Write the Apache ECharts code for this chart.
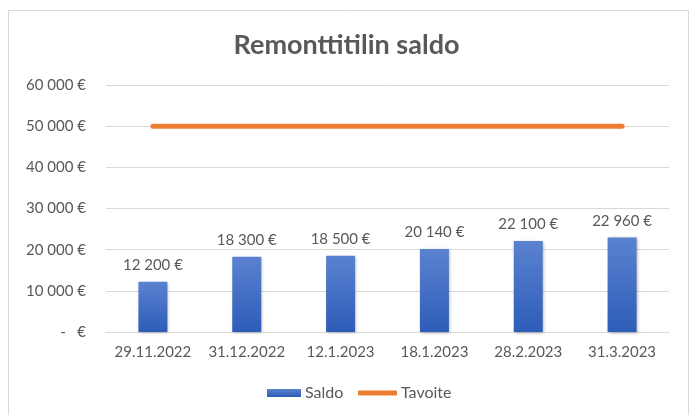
<!DOCTYPE html>
<html><head><meta charset="utf-8">
<script src="https://cdn.jsdelivr.net/npm/echarts@6/dist/echarts.min.js"></script>
<style>html,body{margin:0;padding:0;background:#fff}#c{width:693px;height:415px}</style>
</head><body><div id="c"></div>
<script>
const categories = ['29.11.2022','31.12.2022','12.1.2023','18.1.2023','28.2.2023','31.3.2023'];
const saldo = [12200, 18300, 18500, 20140, 22100, 22960];
const tavoite = [50000, 50000, 50000, 50000, 50000, 50000];
const title = 'Remonttitilin saldo';

function fmt(v){
  if (v === 0) return '-   €';
  return String(Math.round(v)).replace(/\B(?=(\d{3})+(?!\d))/g, ' ') + ' €';
}
const FONT = 'Lato';
const TXT = '#595959';
const chart = echarts.init(document.getElementById('c'), null, {renderer:'canvas'});
chart.setOption({
  backgroundColor:'#fff',
  animation:false,
  textStyle:{fontFamily:FONT},
  title:{text:title,left:'center',top:27,textStyle:{fontFamily:FONT,fontSize:27,fontWeight:'bold',color:TXT}},
  graphic:[{type:'rect',shape:{x:8.5,y:10.5,width:680,height:420},style:{fill:'none',stroke:'#d9d9d9',lineWidth:1},silent:true,z:-1}],
  grid:{left:106,right:24,top:85,bottom:83},
  legend:[
    {data:[{name:'Saldo',icon:'rect'}],left:262,top:380,itemWidth:34,itemHeight:8,itemGap:4,
     textStyle:{color:TXT,fontSize:16,fontFamily:FONT,padding:[0,0,0,-1]}},
    {data:[{name:'Tavoite',icon:'roundRect'}],left:353,top:380,itemWidth:39,itemHeight:5,itemGap:4,
     textStyle:{color:TXT,fontSize:16,fontFamily:FONT,padding:[0,0,0,-1]}}
  ],
  xAxis:{type:'category',data:categories,
    axisLine:{lineStyle:{color:'#d9d9d9'}},axisTick:{show:false},
    axisLabel:{color:TXT,fontSize:15,margin:13,fontFamily:FONT,interval:0,hideOverlap:false}},
  yAxis:{type:'value',min:0,max:60000,interval:10000,
    axisLine:{show:false},axisTick:{show:false},
    splitLine:{lineStyle:{color:'#d9d9d9'}},
    axisLabel:{color:TXT,fontSize:15,margin:20,fontFamily:FONT,formatter:fmt}},
  series:[
    {name:'Saldo',type:'bar',data:saldo,barWidth:29,
     itemStyle:{color:new echarts.graphic.LinearGradient(0,0,0,1,[{offset:0,color:'#5b82d0'},{offset:1,color:'#2d5db8'}]),
       shadowColor:'rgba(0,0,0,0.3)',shadowBlur:3,shadowOffsetX:1,shadowOffsetY:1},
     label:{show:true,position:'top',distance:9,color:TXT,fontSize:15,fontFamily:FONT,formatter:p=>fmt(p.value)}},
    {name:'Tavoite',type:'line',data:tavoite,showSymbol:false,symbol:'none',
     itemStyle:{color:'#ed7d31'},
     lineStyle:{color:'#ed7d31',width:5,cap:'round'}}
  ]
});
</script></body></html>
